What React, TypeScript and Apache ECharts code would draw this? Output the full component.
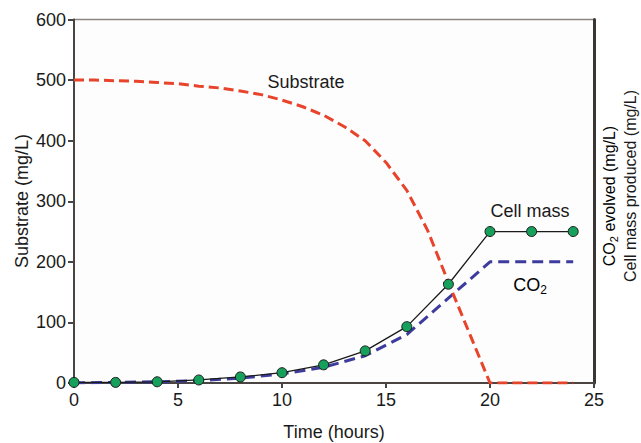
import React, { useEffect, useRef } from "react";
import * as echarts from "echarts";

const subTimes = [0, 1, 2, 3, 4, 5, 6, 7, 8, 9, 10, 11, 12, 13, 14, 15, 16, 17, 18, 19, 20, 21, 22, 23, 24];
const substrate = [500, 500, 499, 498, 496, 494, 490, 487, 482, 476, 467, 456, 442, 423, 400, 364, 318, 252, 166, 83, 0, 0, 0, 0, 0];
const times = [0, 2, 4, 6, 8, 10, 12, 14, 16, 18, 20, 22, 24];
const cellMass = [1, 1, 2, 5, 10, 17, 30, 53, 93, 163, 250, 250, 250];
const co2 = [0, 1, 2, 4, 8, 15, 26, 45, 80, 140, 200, 200, 200];
const xTicks = { min: 0, max: 25, interval: 5 };
const yTicks = { min: 0, max: 600, interval: 100 };

const FONT = "'Liberation Sans', Arial, Helvetica, sans-serif";

export default function App() {
  const ref = useRef<HTMLDivElement>(null);
  useEffect(() => {
    if (!ref.current) return;
    const chart = echarts.init(ref.current, undefined, { renderer: "svg" });
    const pair = (xs: number[], ys: number[]) => xs.map((x, i) => [x, ys[i]]);
    const baseRich = { fontSize: 18, lineHeight: 22, fontFamily: FONT, color: "#1a1a1a" };
    chart.setOption({
      animation: false,
      backgroundColor: "#ffffff",
      textStyle: { fontFamily: FONT },
      grid: {
        left: 74,
        right: 47,
        top: 19.5,
        bottom: 60,
        show: true,
        borderColor: "#8a8684",
        borderWidth: 1.5,
        backgroundColor: "#fdfdfd",
      },
      xAxis: {
        type: "value",
        min: xTicks.min,
        max: xTicks.max,
        interval: xTicks.interval,
        axisLine: { show: true, lineStyle: { color: "#4a4442", width: 2 } },
        axisTick: { show: true, length: 5, lineStyle: { color: "#4a4442", width: 2 } },
        axisLabel: { fontSize: 18, color: "#1a1a1a", margin: 8, fontFamily: FONT },
        splitLine: { show: false },
      },
      yAxis: [
        {
          type: "value",
          min: yTicks.min,
          max: yTicks.max,
          interval: yTicks.interval,
          axisLine: { show: true, lineStyle: { color: "#4a4442", width: 2 } },
          axisTick: { show: true, length: 6, lineStyle: { color: "#4a4442", width: 2 } },
          axisLabel: { fontSize: 18, color: "#1a1a1a", margin: 8, fontFamily: FONT },
          splitLine: { show: false },
        },
        {
          type: "value",
          position: "right",
          min: yTicks.min,
          max: yTicks.max,
          interval: yTicks.interval,
          axisLine: { show: true, lineStyle: { color: "#3a3634", width: 3 } },
          axisTick: { show: false },
          axisLabel: { show: false },
          splitLine: { show: false },
        },
      ],
      series: [
        {
          name: "CO2",
          type: "line",
          data: pair(times, co2),
          showSymbol: false,
          lineStyle: { color: "#3d3c9e", width: 3, type: [11, 6] },
          z: 2,
        },
        {
          name: "Substrate",
          type: "line",
          data: pair(subTimes, substrate),
          showSymbol: false,
          lineStyle: { color: "#e8432b", width: 3, type: [10, 5] },
          z: 3,
        },
        {
          name: "Cell mass",
          type: "line",
          data: pair(times, cellMass),
          symbol: "circle",
          symbolSize: 10,
          itemStyle: { color: "#17a05c", borderColor: "#1a1a1a", borderWidth: 1 },
          lineStyle: { color: "#1a1a1a", width: 1.3 },
          z: 4,
        },
      ],
      graphic: [
        {
          type: "text",
          x: 306,
          y: 82,
          style: { text: "Substrate", fontSize: 18, fontFamily: FONT, fill: "#1a1a1a", align: "center", verticalAlign: "middle" },
        },
        {
          type: "text",
          x: 530,
          y: 211,
          style: { text: "Cell mass", fontSize: 18, fontFamily: FONT, fill: "#1a1a1a", align: "center", verticalAlign: "middle" },
        },
        {
          type: "text",
          x: 530,
          y: 285,
          style: {
            text: "{b|CO}{s|2}",
            align: "center",
            verticalAlign: "middle",
            rich: {
              b: baseRich,
              s: { fontSize: 12, lineHeight: 12, verticalAlign: "bottom", fontFamily: FONT, color: "#1a1a1a" },
            },
          },
        },
        {
          type: "text",
          x: 334,
          y: 432,
          style: { text: "Time (hours)", fontSize: 18, fontFamily: FONT, fill: "#1a1a1a", align: "center", verticalAlign: "middle" },
        },
        {
          type: "text",
          x: 22,
          y: 201,
          rotation: Math.PI / 2,
          style: { text: "Substrate (mg/L)", fontSize: 18, fontFamily: FONT, fill: "#1a1a1a", align: "center", verticalAlign: "middle" },
        },
        {
          type: "text",
          x: 609,
          y: 196,
          rotation: Math.PI / 2,
          style: {
            text: "{b|CO}{s|2}{b| evolved (mg/L)}",
            align: "center",
            verticalAlign: "middle",
            rich: {
              b: { fontSize: 16, lineHeight: 20, fontFamily: FONT, color: "#1a1a1a" },
              s: { fontSize: 11, lineHeight: 11, verticalAlign: "bottom", fontFamily: FONT, color: "#1a1a1a" },
            },
          },
        },
        {
          type: "text",
          x: 630,
          y: 186,
          rotation: Math.PI / 2,
          style: { text: "Cell mass produced (mg/L)", fontSize: 16, fontFamily: FONT, fill: "#1a1a1a", align: "center", verticalAlign: "middle" },
        },
      ],
    });
    return () => chart.dispose();
  }, []);
  return <div ref={ref} style={{ width: 641, height: 443, position: "absolute", left: 0, top: 0 }} />;
}
